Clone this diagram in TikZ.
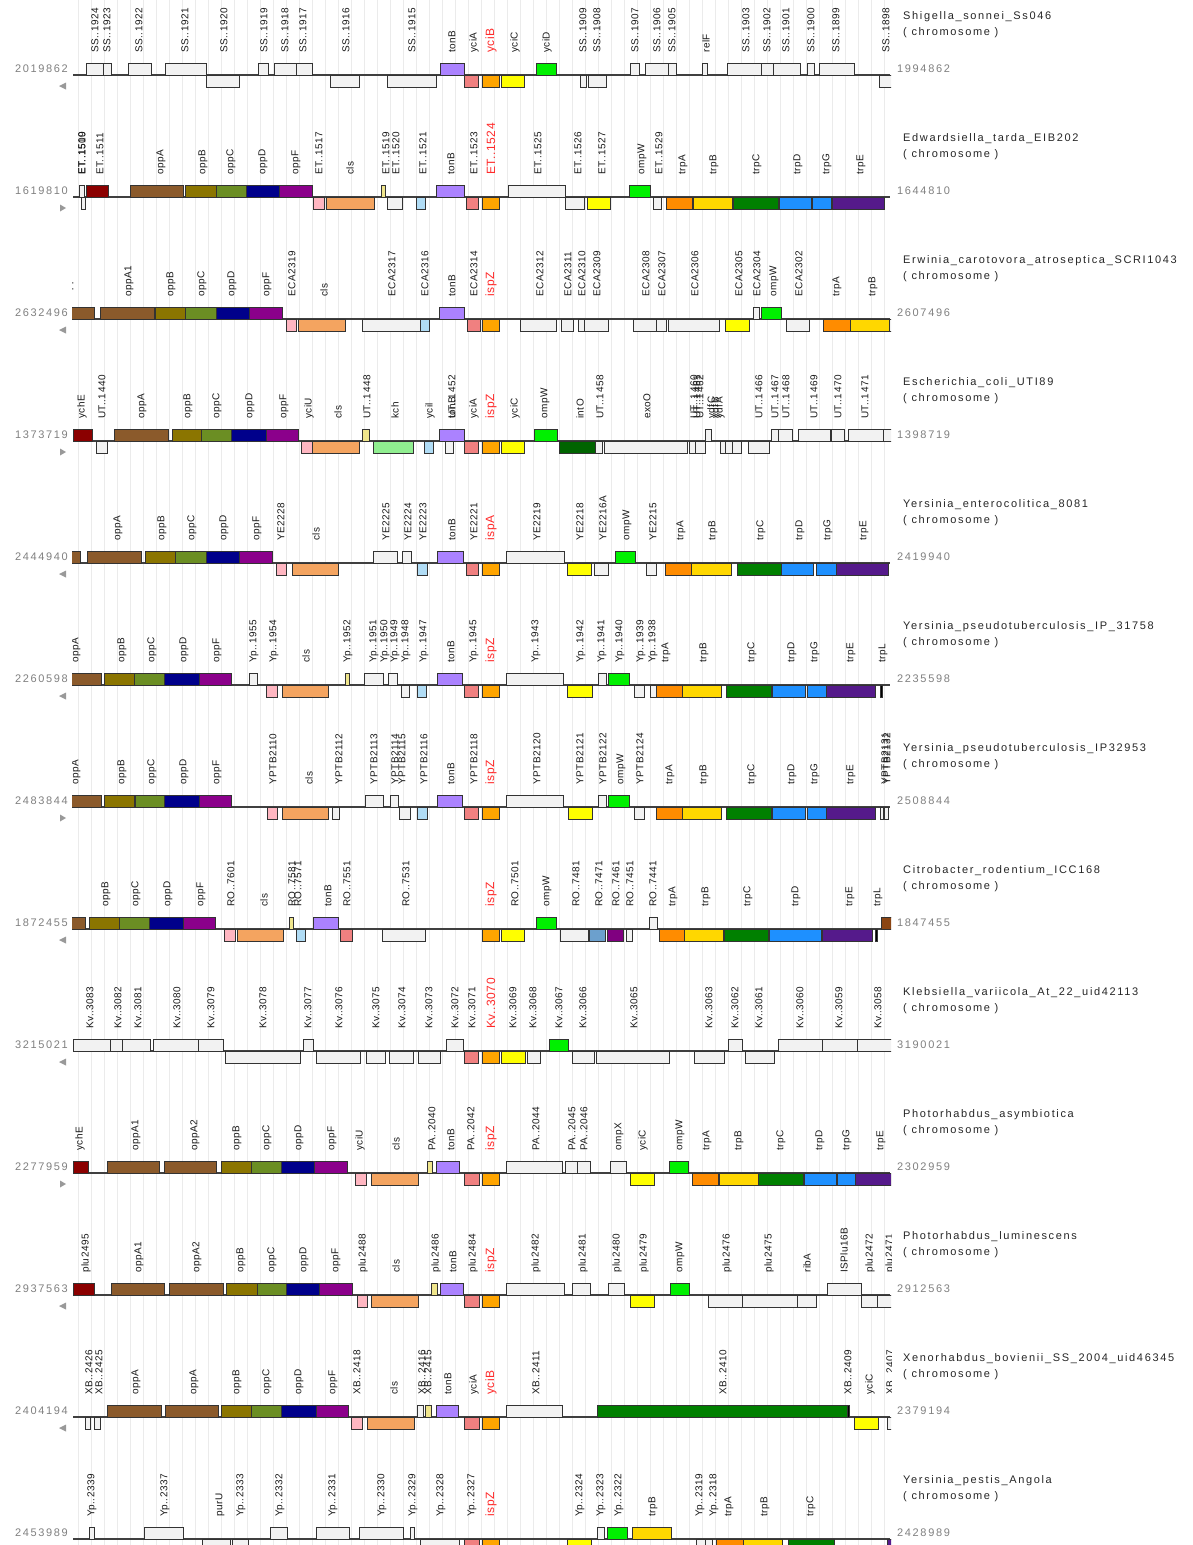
\documentclass[tikz,border=0pt]{standalone}
\usepackage{fontspec}
\newfontfamily\genefont{Liberation Sans}[LetterSpace=5]
\newfontfamily\infofont{Liberation Sans}[LetterSpace=15]
\definecolor{genewhite}{HTML}{F2F2F2}
\definecolor{ychE}{HTML}{8B0000}
\definecolor{oppA}{HTML}{8B5A2B}
\definecolor{oppB}{HTML}{8B7500}
\definecolor{oppC}{HTML}{6B8E23}
\definecolor{oppD}{HTML}{00008B}
\definecolor{oppF}{HTML}{8B008B}
\definecolor{pinkgene}{HTML}{FFB6C1}
\definecolor{cls}{HTML}{F4A460}
\definecolor{khakigene}{HTML}{F0E68C}
\definecolor{bluegene}{HTML}{B0DCF5}
\definecolor{tonB}{HTML}{AB82FF}
\definecolor{yciA}{HTML}{F08080}
\definecolor{yciB}{HTML}{FFA500}
\definecolor{yciC}{HTML}{FFFF00}
\definecolor{ompW}{HTML}{00F000}
\definecolor{trpA}{HTML}{FF8C00}
\definecolor{trpB}{HTML}{FFD700}
\definecolor{trpC}{HTML}{008000}
\definecolor{trpD}{HTML}{1E90FF}
\definecolor{trpE}{HTML}{551A8B}
\definecolor{kch}{HTML}{90EE90}
\definecolor{intO}{HTML}{006400}
\definecolor{steelgene}{HTML}{6CA0CD}
\definecolor{purplegene}{HTML}{800080}
\definecolor{trpL}{HTML}{8B4513}
\definecolor{focal}{HTML}{FF2A2A}

% one gene: x1, x2, u(pper)/d(own), fill, label x, label
\newcommand{\gene}[6]{%
  \if u#3
    \draw[genebox,fill=#4] (#1,\tb-12) rectangle (#2,\tb);
  \else
    \draw[genebox,fill=#4] (#1,\tb) rectangle (#2,\tb+12);
  \fi
  \if\relax\detokenize{#6}\relax\else
    \node[genelabel] at (#5,\tb-22) {#6};
  \fi}
\newcommand{\glabel}[2]{\node[genelabel] at (#1,\tb-22) {#2};}
\newcommand{\focal}[1]{\textcolor{focal}{\fontsize{12}{12}\selectfont #1}}
% backbone, coordinates, organism and strand mark of one track
\newcommand{\trackframe}[4]{%
  \draw[backbone] (73,\tb) -- (890,\tb);
  \node[coordtext,anchor=east] at (68,\tb-6) {#1};
  \node[coordtext,anchor=west] at (897,\tb-6) {#2};
  \node[orgtext] at (903,\tb-58) {#3};
  \node[orgtext] at (903,\tb-42) {( chromosome )};
  \if l#4
    \fill[strandmark] (59,\tb+11) -- (66,\tb+7.5) -- (66,\tb+14.5) -- cycle;
  \else
    \fill[strandmark] (66,\tb+11) -- (60,\tb+7.5) -- (60,\tb+14.5) -- cycle;
  \fi}

\begin{document}
\begin{tikzpicture}[x=1pt,y=-1pt,
  genebox/.style={draw=black!80,line width=0.9pt},
  genelabel/.style={rotate=90,anchor=west,inner sep=0pt,
    font=\genefont\fontsize{10}{10}\selectfont,text=black!90},
  backbone/.style={draw=black!75,line width=1.1pt},
  coordtext/.style={inner sep=0pt,font=\infofont\fontsize{11}{12}\selectfont,
    text=black!50},
  orgtext/.style={anchor=west,inner sep=0pt,
    font=\infofont\fontsize{11}{12}\selectfont,text=black!85},
  strandmark/.style={fill=black!40},
  gridline/.style={draw=black!8,line width=0.5pt}
]
  \useasboundingbox (0,0) rectangle (1193,1545);
  \fill[white] (0,0) rectangle (1193,1545);
  \foreach \gx in {78,91,...,890}
    \draw[gridline] (\gx,0) -- (\gx,1545);

  % Shigella
  \def\tb{75}
  \trackframe{2019862}{1994862}{Shigella\_sonnei\_Ss046}{l}
  \begin{scope}
    \clip (72,\tb-80) rectangle (891,\tb+14);
    \gene{86}{103}{u}{genewhite}{95}{SS..1924}
    \gene{103}{111}{u}{genewhite}{107}{SS..1923}
    \gene{128}{151}{u}{genewhite}{139}{SS..1922}
    \gene{165}{206}{u}{genewhite}{185}{SS..1921}
    \gene{206}{239}{d}{genewhite}{224}{SS..1920}
    \gene{258}{268}{u}{genewhite}{264}{SS..1919}
    \gene{274}{296}{u}{genewhite}{285}{SS..1918}
    \gene{296}{312}{u}{genewhite}{303}{SS..1917}
    \gene{330}{359}{d}{genewhite}{346}{SS..1916}
    \gene{387}{436}{d}{genewhite}{412}{SS..1915}
    \gene{440}{464}{u}{tonB}{452}{tonB}
    \gene{464}{478}{d}{yciA}{474}{yciA}
    \gene{482}{499}{d}{yciB}{491}{\focal{yciB}}
    \gene{501}{524}{d}{yciC}{515}{yciC}
    \gene{536}{556}{u}{ompW}{547}{yciD}
    \gene{580}{586}{d}{genewhite}{583}{SS..1909}
    \gene{588}{606}{d}{genewhite}{597}{SS..1908}
    \gene{630}{639}{u}{genewhite}{635}{SS..1907}
    \gene{645}{668}{u}{genewhite}{657}{SS..1906}
    \gene{668}{676}{u}{genewhite}{672}{SS..1905}
    \gene{702}{707}{u}{genewhite}{706}{relF}
    \gene{727}{761}{u}{genewhite}{746}{SS..1903}
    \gene{761}{773}{u}{genewhite}{767}{SS..1902}
    \gene{773}{800}{u}{genewhite}{786}{SS..1901}
    \gene{807}{814}{u}{genewhite}{811}{SS..1900}
    \gene{819}{854}{u}{genewhite}{836}{SS..1899}
    \gene{879}{900}{d}{genewhite}{886}{SS..1898}
  \end{scope}

  % Edwardsiella
  \def\tb{197}
  \trackframe{1619810}{1644810}{Edwardsiella\_tarda\_EIB202}{r}
  \begin{scope}
    \clip (72,\tb-80) rectangle (891,\tb+14);
    \gene{79}{84}{u}{genewhite}{82}{ET..1509}
    \gene{81}{85}{d}{genewhite}{82}{ET..1510}
    \gene{86}{108}{u}{ychE}{100}{ET..1511}
    \gene{130}{183}{u}{oppA}{161}{oppA}
    \gene{185}{216}{u}{oppB}{203}{oppB}
    \gene{216}{246}{u}{oppC}{231}{oppC}
    \gene{246}{279}{u}{oppD}{263}{oppD}
    \gene{279}{312}{u}{oppF}{296}{oppF}
    \gene{313}{324}{d}{pinkgene}{319}{ET..1517}
    \gene{326}{374}{d}{cls}{350}{cls}
    \gene{381}{385}{u}{khakigene}{386}{ET..1519}
    \gene{387}{402}{d}{genewhite}{396}{ET..1520}
    \gene{416}{425}{d}{bluegene}{423}{ET..1521}
    \gene{436}{464}{u}{tonB}{451}{tonB}
    \gene{466}{478}{d}{yciA}{474}{ET..1523}
    \gene{482}{499}{d}{yciB}{491}{\focal{ET..1524}}
    \gene{508}{565}{u}{genewhite}{538}{ET..1525}
    \gene{565}{584}{d}{genewhite}{578}{ET..1526}
    \gene{587}{610}{d}{yciC}{602}{ET..1527}
    \gene{629}{650}{u}{ompW}{642}{ompW}
    \gene{653}{661}{d}{genewhite}{659}{ET..1529}
    \gene{666}{692}{d}{trpA}{683}{trpA}
    \gene{693}{732}{d}{trpB}{714}{trpB}
    \gene{733}{778}{d}{trpC}{757}{trpC}
    \gene{779}{811}{d}{trpD}{798}{trpD}
    \gene{812}{831}{d}{trpD}{827}{trpG}
    \gene{832}{884}{d}{trpE}{861}{trpE}
  \end{scope}

  % Erwinia
  \def\tb{319}
  \trackframe{2632496}{2607496}{Erwinia\_carotovora\_atroseptica\_SCRI1043}{l}
  \begin{scope}
    \clip (72,\tb-80) rectangle (891,\tb+14);
    \gene{42}{94}{u}{oppA}{69}{oppA2}
    \gene{100}{154}{u}{oppA}{129}{oppA1}
    \gene{155}{185}{u}{oppB}{171}{oppB}
    \gene{185}{216}{u}{oppC}{202}{oppC}
    \gene{216}{249}{u}{oppD}{232}{oppD}
    \gene{249}{282}{u}{oppF}{267}{oppF}
    \gene{286}{296}{d}{pinkgene}{292}{ECA2319}
    \gene{298}{345}{d}{cls}{324}{cls}
    \gene{362}{420}{d}{genewhite}{392}{ECA2317}
    \gene{420}{429}{d}{bluegene}{425}{ECA2316}
    \gene{439}{464}{u}{tonB}{452}{tonB}
    \gene{467}{480}{d}{yciA}{474}{ECA2314}
    \gene{482}{499}{d}{yciB}{491}{\focal{ispZ}}
    \gene{520}{556}{d}{genewhite}{540}{ECA2312}
    \gene{561}{573}{d}{genewhite}{568}{ECA2311}
    \gene{578}{584}{d}{genewhite}{582}{ECA2310}
    \gene{584}{608}{d}{genewhite}{597}{ECA2309}
    \gene{633}{656}{d}{genewhite}{646}{ECA2308}
    \gene{656}{666}{d}{genewhite}{662}{ECA2307}
    \gene{668}{719}{d}{genewhite}{695}{ECA2306}
    \gene{725}{749}{d}{yciC}{739}{ECA2305}
    \gene{753}{759}{u}{genewhite}{757}{ECA2304}
    \gene{761}{781}{u}{ompW}{774}{ompW}
    \gene{786}{809}{d}{genewhite}{799}{ECA2302}
    \gene{823}{850}{d}{trpA}{837}{trpA}
    \gene{850}{889}{d}{trpB}{873}{trpB}
    \gene{889}{895}{d}{genewhite}{}{}
  \end{scope}

  % Escherichia
  \def\tb{441}
  \trackframe{1373719}{1398719}{Escherichia\_coli\_UTI89}{r}
  \begin{scope}
    \clip (72,\tb-80) rectangle (891,\tb+14);
    \gene{73}{92}{u}{ychE}{82}{ychE}
    \gene{96}{107}{d}{genewhite}{102}{UT..1440}
    \gene{114}{168}{u}{oppA}{142}{oppA}
    \gene{172}{201}{u}{oppB}{188}{oppB}
    \gene{201}{231}{u}{oppC}{217}{oppC}
    \gene{231}{266}{u}{oppD}{250}{oppD}
    \gene{266}{298}{u}{oppF}{284}{oppF}
    \gene{301}{312}{d}{pinkgene}{309}{yciU}
    \gene{312}{359}{d}{cls}{338}{cls}
    \gene{362}{369}{u}{khakigene}{367}{UT..1448}
    \gene{373}{413}{d}{kch}{395}{kch}
    \gene{424}{433}{d}{bluegene}{430}{ycil}
    \gene{439}{464}{u}{tonB}{452}{tonB}
    \gene{445}{453}{d}{genewhite}{452}{UT..1452}
    \gene{464}{478}{d}{yciA}{474}{yciA}
    \gene{482}{499}{d}{yciB}{491}{\focal{ispZ}}
    \gene{501}{524}{d}{yciC}{515}{yciC}
    \gene{534}{557}{u}{ompW}{545}{ompW}
    \gene{559}{595}{d}{intO}{580}{intO}
    \gene{595}{602}{d}{genewhite}{600}{UT..1458}
    \gene{604}{687}{d}{genewhite}{647}{exoO}
    \gene{689}{695}{d}{genewhite}{694}{UT..1460}
    \gene{695}{705}{d}{genewhite}{697}{UT..1461}
    \gene{705}{711}{u}{genewhite}{700}{UT..1462}
    \gene{720}{725}{d}{genewhite}{712}{ydfC}
    \gene{725}{732}{d}{genewhite}{716}{ydfB}
    \gene{732}{741}{d}{genewhite}{720}{ydfA}
    \gene{748}{769}{d}{genewhite}{759}{UT..1466}
    \gene{771}{778}{u}{genewhite}{775}{UT..1467}
    \gene{778}{792}{u}{genewhite}{786}{UT..1468}
    \gene{798}{830}{u}{genewhite}{814}{UT..1469}
    \gene{831}{844}{u}{genewhite}{838}{UT..1470}
    \gene{848}{883}{u}{genewhite}{865}{UT..1471}
    \gene{883}{895}{u}{genewhite}{}{}
  \end{scope}

  % Yersinia enterocolitica
  \def\tb{563}
  \trackframe{2444940}{2419940}{Yersinia\_enterocolitica\_8081}{l}
  \begin{scope}
    \clip (72,\tb-80) rectangle (891,\tb+14);
    \gene{60}{80}{u}{oppA}{}{}
    \gene{87}{141}{u}{oppA}{118}{oppA}
    \gene{145}{175}{u}{oppB}{162}{oppB}
    \gene{175}{206}{u}{oppC}{192}{oppC}
    \gene{206}{239}{u}{oppD}{224}{oppD}
    \gene{239}{272}{u}{oppF}{257}{oppF}
    \gene{276}{286}{d}{pinkgene}{281}{YE2228}
    \gene{292}{338}{d}{cls}{316}{cls}
    \gene{373}{397}{u}{genewhite}{386}{YE2225}
    \gene{402}{411}{u}{genewhite}{408}{YE2224}
    \gene{417}{427}{d}{bluegene}{423}{YE2223}
    \gene{437}{463}{u}{tonB}{452}{tonB}
    \gene{466}{478}{d}{yciA}{474}{YE2221}
    \gene{482}{499}{d}{yciB}{491}{\focal{ispA}}
    \gene{506}{564}{u}{genewhite}{537}{YE2219}
    \gene{567}{591}{d}{yciC}{580}{YE2218}
    \gene{594}{608}{d}{genewhite}{603}{YE2216A}
    \gene{615}{635}{u}{ompW}{627}{ompW}
    \gene{646}{656}{d}{genewhite}{653}{YE2215}
    \gene{665}{691}{d}{trpA}{681}{trpA}
    \gene{691}{731}{d}{trpB}{713}{trpB}
    \gene{737}{781}{d}{trpC}{761}{trpC}
    \gene{781}{813}{d}{trpD}{800}{trpD}
    \gene{816}{836}{d}{trpD}{828}{trpG}
    \gene{836}{888}{d}{trpE}{864}{trpE}
  \end{scope}

  % Yersinia pseudotuberculosis IP 31758
  \def\tb{685}
  \trackframe{2260598}{2235598}{Yersinia\_pseudotuberculosis\_IP\_31758}{l}
  \begin{scope}
    \clip (72,\tb-80) rectangle (891,\tb+14);
    \gene{51}{101}{u}{oppA}{76}{oppA}
    \gene{104}{134}{u}{oppB}{122}{oppB}
    \gene{134}{164}{u}{oppC}{152}{oppC}
    \gene{164}{199}{u}{oppD}{184}{oppD}
    \gene{199}{231}{u}{oppF}{217}{oppF}
    \gene{249}{257}{u}{genewhite}{254}{Yp..1955}
    \gene{266}{277}{d}{pinkgene}{274}{Yp..1954}
    \gene{282}{328}{d}{cls}{306}{cls}
    \gene{345}{349}{u}{khakigene}{348}{Yp..1952}
    \gene{364}{383}{u}{genewhite}{374}{Yp..1951}
    \glabel{385}{Yp..1950}
    \gene{388}{397}{u}{genewhite}{395}{Yp..1949}
    \gene{401}{409}{d}{genewhite}{406}{Yp..1948}
    \gene{417}{426}{d}{bluegene}{424}{Yp..1947}
    \gene{437}{462}{u}{tonB}{451}{tonB}
    \gene{464}{478}{d}{yciA}{474}{Yp..1945}
    \gene{482}{499}{d}{yciB}{491}{\focal{ispZ}}
    \gene{506}{563}{u}{genewhite}{536}{Yp..1943}
    \gene{567}{592}{d}{yciC}{581}{Yp..1942}
    \gene{598}{606}{u}{genewhite}{602}{Yp..1941}
    \gene{608}{629}{u}{ompW}{620}{Yp..1940}
    \gene{634}{644}{d}{genewhite}{641}{Yp..1939}
    \gene{650}{656}{d}{genewhite}{653}{Yp..1938}
    \gene{656}{682}{d}{trpA}{666}{trpA}
    \gene{682}{721}{d}{trpB}{704}{trpB}
    \gene{726}{771}{d}{trpC}{752}{trpC}
    \gene{772}{805}{d}{trpD}{792}{trpD}
    \gene{807}{826}{d}{trpD}{815}{trpG}
    \gene{826}{875}{d}{trpE}{851}{trpE}
    \gene{880}{882}{d}{black}{883}{trpL}
  \end{scope}

  % Yersinia pseudotuberculosis IP32953
  \def\tb{807}
  \trackframe{2483844}{2508844}{Yersinia\_pseudotuberculosis\_IP32953}{r}
  \begin{scope}
    \clip (72,\tb-80) rectangle (891,\tb+14);
    \gene{51}{101}{u}{oppA}{76}{oppA}
    \gene{104}{134}{u}{oppB}{122}{oppB}
    \gene{135}{164}{u}{oppC}{152}{oppC}
    \gene{164}{199}{u}{oppD}{184}{oppD}
    \gene{199}{231}{u}{oppF}{217}{oppF}
    \gene{267}{277}{d}{pinkgene}{273}{YPTB2110}
    \gene{282}{328}{d}{cls}{309}{cls}
    \gene{332}{339}{d}{genewhite}{339}{YPTB2112}
    \gene{365}{383}{u}{genewhite}{374}{YPTB2113}
    \gene{390}{398}{u}{genewhite}{395}{YPTB2114}
    \gene{399}{410}{d}{genewhite}{402}{YPTB2115}
    \gene{417}{427}{d}{bluegene}{424}{YPTB2116}
    \gene{437}{462}{u}{tonB}{451}{tonB}
    \gene{464}{478}{d}{yciA}{474}{YPTB2118}
    \gene{482}{499}{d}{yciB}{491}{\focal{ispZ}}
    \gene{506}{563}{u}{genewhite}{537}{YPTB2120}
    \gene{568}{592}{d}{yciC}{580}{YPTB2121}
    \gene{598}{606}{u}{genewhite}{603}{YPTB2122}
    \gene{608}{629}{u}{ompW}{621}{ompW}
    \gene{634}{644}{d}{genewhite}{640}{YPTB2124}
    \gene{656}{682}{d}{trpA}{670}{trpA}
    \gene{682}{721}{d}{trpB}{704}{trpB}
    \gene{726}{771}{d}{trpC}{752}{trpC}
    \gene{772}{805}{d}{trpD}{792}{trpD}
    \gene{807}{826}{d}{trpD}{815}{trpG}
    \gene{826}{875}{d}{trpE}{851}{trpE}
    \gene{880}{883}{d}{genewhite}{885}{YPTB2131}
    \gene{884}{888}{d}{genewhite}{887}{YPTB2132}
  \end{scope}

  % Citrobacter
  \def\tb{929}
  \trackframe{1872455}{1847455}{Citrobacter\_rodentium\_ICC168}{l}
  \begin{scope}
    \clip (72,\tb-80) rectangle (891,\tb+14);
    \gene{60}{85}{u}{oppA}{}{}
    \gene{89}{119}{u}{oppB}{106}{oppB}
    \gene{119}{149}{u}{oppC}{136}{oppC}
    \gene{149}{183}{u}{oppD}{168}{oppD}
    \gene{183}{215}{u}{oppF}{201}{oppF}
    \gene{224}{235}{d}{pinkgene}{231}{RO..7601}
    \gene{237}{283}{d}{cls}{264}{cls}
    \gene{289}{293}{u}{khakigene}{292}{RO..7581}
    \gene{296}{305}{d}{bluegene}{298}{RO..7571}
    \gene{313}{338}{u}{tonB}{328}{tonB}
    \gene{340}{352}{d}{yciA}{347}{RO..7551}
    \gene{382}{425}{d}{genewhite}{406}{RO..7531}
    \gene{482}{499}{d}{yciB}{491}{\focal{ispZ}}
    \gene{501}{524}{d}{yciC}{515}{RO..7501}
    \gene{536}{556}{u}{ompW}{547}{ompW}
    \gene{560}{588}{d}{genewhite}{576}{RO..7481}
    \gene{589}{605}{d}{steelgene}{599}{RO..7471}
    \gene{607}{623}{d}{purplegene}{616}{RO..7461}
    \gene{626}{632}{d}{genewhite}{630}{RO..7451}
    \gene{649}{657}{u}{genewhite}{653}{RO..7441}
    \gene{659}{684}{d}{trpA}{673}{trpA}
    \gene{684}{723}{d}{trpB}{706}{trpB}
    \gene{724}{768}{d}{trpC}{748}{trpC}
    \gene{769}{821}{d}{trpD}{796}{trpD}
    \gene{822}{872}{d}{trpE}{850}{trpE}
    \gene{875}{877}{d}{black}{878}{trpL}
    \gene{881}{895}{u}{trpL}{}{}
  \end{scope}

  % Klebsiella
  \def\tb{1051}
  \trackframe{3215021}{3190021}{Klebsiella\_variicola\_At\_22\_uid42113}{l}
  \begin{scope}
    \clip (72,\tb-80) rectangle (891,\tb+14);
    \gene{73}{110}{u}{genewhite}{90}{Kv..3083}
    \gene{110}{122}{u}{genewhite}{118}{Kv..3082}
    \gene{122}{150}{u}{genewhite}{138}{Kv..3081}
    \gene{153}{198}{u}{genewhite}{177}{Kv..3080}
    \gene{198}{223}{u}{genewhite}{211}{Kv..3079}
    \gene{225}{300}{d}{genewhite}{263}{Kv..3078}
    \gene{303}{313}{u}{genewhite}{308}{Kv..3077}
    \gene{316}{360}{d}{genewhite}{339}{Kv..3076}
    \gene{366}{385}{d}{genewhite}{376}{Kv..3075}
    \gene{389}{413}{d}{genewhite}{402}{Kv..3074}
    \gene{418}{440}{d}{genewhite}{429}{Kv..3073}
    \gene{446}{463}{u}{genewhite}{455}{Kv..3072}
    \gene{464}{478}{d}{yciA}{472}{Kv..3071}
    \gene{482}{499}{d}{yciB}{491}{\focal{Kv..3070}}
    \gene{501}{525}{d}{yciC}{513}{Kv..3069}
    \gene{527}{540}{d}{genewhite}{533}{Kv..3068}
    \gene{549}{568}{u}{ompW}{559}{Kv..3067}
    \gene{572}{594}{d}{genewhite}{583}{Kv..3066}
    \gene{596}{669}{d}{genewhite}{634}{Kv..3065}
    \gene{694}{724}{d}{genewhite}{709}{Kv..3063}
    \gene{728}{742}{u}{genewhite}{735}{Kv..3062}
    \gene{745}{774}{d}{genewhite}{759}{Kv..3061}
    \gene{778}{822}{u}{genewhite}{800}{Kv..3060}
    \gene{822}{857}{u}{genewhite}{839}{Kv..3059}
    \gene{857}{895}{u}{genewhite}{878}{Kv..3058}
  \end{scope}

  % Photorhabdus asymbiotica
  \def\tb{1173}
  \trackframe{2277959}{2302959}{Photorhabdus\_asymbiotica}{r}
  \begin{scope}
    \clip (72,\tb-80) rectangle (891,\tb+14);
    \gene{73}{88}{u}{ychE}{80}{ychE}
    \gene{107}{159}{u}{oppA}{136}{oppA1}
    \gene{164}{216}{u}{oppA}{195}{oppA2}
    \gene{221}{251}{u}{oppB}{237}{oppB}
    \gene{251}{281}{u}{oppC}{267}{oppC}
    \gene{281}{314}{u}{oppD}{299}{oppD}
    \gene{314}{347}{u}{oppF}{332}{oppF}
    \gene{355}{366}{d}{pinkgene}{360}{yciU}
    \gene{371}{418}{d}{cls}{396}{cls}
    \gene{427}{432}{u}{khakigene}{432}{PA..2040}
    \gene{436}{459}{u}{tonB}{451}{tonB}
    \gene{464}{479}{d}{yciA}{471}{PA..2042}
    \gene{482}{499}{d}{yciB}{491}{\focal{ispZ}}
    \gene{506}{562}{u}{genewhite}{536}{PA..2044}
    \gene{565}{577}{u}{genewhite}{572}{PA..2045}
    \gene{577}{590}{u}{genewhite}{584}{PA..2046}
    \gene{610}{626}{u}{genewhite}{619}{ompX}
    \gene{630}{654}{d}{yciC}{643}{yciC}
    \gene{669}{688}{u}{ompW}{680}{ompW}
    \gene{692}{718}{d}{trpA}{707}{trpA}
    \gene{719}{758}{d}{trpB}{739}{trpB}
    \gene{758}{803}{d}{trpC}{781}{trpC}
    \gene{804}{836}{d}{trpD}{820}{trpD}
    \gene{837}{855}{d}{trpD}{847}{trpG}
    \gene{855}{891}{d}{trpE}{881}{trpE}
  \end{scope}

  % Photorhabdus luminescens
  \def\tb{1295}
  \trackframe{2937563}{2912563}{Photorhabdus\_luminescens}{l}
  \begin{scope}
    \clip (72,\tb-80) rectangle (891,\tb+14);
    \gene{73}{94}{u}{ychE}{86}{plu2495}
    \gene{111}{164}{u}{oppA}{139}{oppA1}
    \gene{169}{223}{u}{oppA}{197}{oppA2}
    \gene{226}{257}{u}{oppB}{241}{oppB}
    \gene{257}{286}{u}{oppC}{272}{oppC}
    \gene{286}{319}{u}{oppD}{304}{oppD}
    \gene{319}{352}{u}{oppF}{336}{oppF}
    \gene{357}{367}{d}{pinkgene}{363}{plu2488}
    \gene{371}{418}{d}{cls}{396}{cls}
    \gene{431}{437}{u}{khakigene}{436}{plu2486}
    \gene{440}{463}{u}{tonB}{453}{tonB}
    \gene{464}{479}{d}{yciA}{473}{plu2484}
    \gene{482}{499}{d}{yciB}{491}{\focal{ispZ}}
    \gene{506}{564}{u}{genewhite}{536}{plu2482}
    \gene{572}{590}{u}{genewhite}{583}{plu2481}
    \gene{608}{624}{u}{genewhite}{617}{plu2480}
    \gene{630}{654}{d}{yciC}{644}{plu2479}
    \gene{670}{689}{u}{ompW}{680}{ompW}
    \gene{708}{742}{d}{genewhite}{727}{plu2476}
    \gene{742}{797}{d}{genewhite}{769}{plu2475}
    \gene{797}{816}{d}{genewhite}{807}{ribA}
    \gene{827}{861}{u}{genewhite}{844}{ISPlu16B}
    \gene{861}{877}{d}{genewhite}{870}{plu2472}
    \gene{877}{895}{d}{genewhite}{890}{plu2471}
  \end{scope}

  % Xenorhabdus
  \def\tb{1417}
  \trackframe{2404194}{2379194}{Xenorhabdus\_bovienii\_SS\_2004\_uid46345}{l}
  \begin{scope}
    \clip (72,\tb-80) rectangle (891,\tb+14);
    \gene{85}{90}{d}{genewhite}{89}{XB..2426}
    \gene{94}{100}{d}{genewhite}{99}{XB..2425}
    \gene{107}{161}{u}{oppA}{136}{oppA}
    \gene{165}{218}{u}{oppA}{194}{oppA}
    \gene{221}{251}{u}{oppB}{237}{oppB}
    \gene{251}{281}{u}{oppC}{267}{oppC}
    \gene{281}{316}{u}{oppD}{299}{oppD}
    \gene{316}{348}{u}{oppF}{333}{oppF}
    \gene{351}{362}{d}{pinkgene}{357}{XB..2418}
    \gene{367}{414}{d}{cls}{394}{cls}
    \gene{417}{423}{u}{genewhite}{422}{XB..2416}
    \gene{425}{431}{u}{khakigene}{428}{XB..2415}
    \gene{436}{458}{u}{tonB}{448}{tonB}
    \gene{464}{479}{d}{yciA}{474}{yciA}
    \gene{482}{499}{d}{yciB}{491}{\focal{yciB}}
    \gene{506}{562}{u}{genewhite}{536}{XB..2411}
    \gene{597}{847}{u}{trpC}{723}{XB..2410}
    \gene{847}{849}{u}{black}{848}{XB..2409}
    \gene{854}{878}{d}{yciC}{870}{yciC}
    \gene{887}{895}{d}{genewhite}{890}{XB..2407}
  \end{scope}

  % Yersinia pestis
  \def\tb{1539}
  \trackframe{2453989}{2428989}{Yersinia\_pestis\_Angola}{l}
  \begin{scope}
    \clip (72,\tb-80) rectangle (891,\tb+14);
    \gene{89}{94}{u}{genewhite}{92}{Yp..2339}
    \gene{144}{183}{u}{genewhite}{165}{Yp..2337}
    \gene{202}{230}{d}{genewhite}{220}{purU}
    \gene{232}{248}{d}{genewhite}{241}{Yp..2333}
    \gene{270}{287}{u}{genewhite}{280}{Yp..2332}
    \gene{316}{349}{u}{genewhite}{333}{Yp..2331}
    \gene{359}{403}{u}{genewhite}{382}{Yp..2330}
    \gene{410}{414}{u}{genewhite}{413}{Yp..2329}
    \gene{420}{459}{d}{genewhite}{441}{Yp..2328}
    \gene{464}{479}{d}{yciA}{472}{Yp..2327}
    \gene{482}{499}{d}{yciB}{491}{\focal{ispZ}}
    \gene{567}{591}{d}{yciC}{580}{Yp..2324}
    \gene{597}{604}{u}{genewhite}{601}{Yp..2323}
    \gene{607}{627}{u}{ompW}{619}{Yp..2322}
    \gene{632}{671}{u}{trpB}{653}{trpB}
    \gene{696}{705}{d}{genewhite}{700}{Yp..2319}
    \gene{705}{712}{d}{genewhite}{714}{Yp..2318}
    \gene{716}{743}{d}{trpA}{729}{trpA}
    \gene{743}{782}{d}{trpB}{765}{trpB}
    \gene{788}{834}{d}{trpC}{811}{trpC}
    \gene{887}{895}{d}{trpE}{}{}
  \end{scope}
\end{tikzpicture}
\end{document}
